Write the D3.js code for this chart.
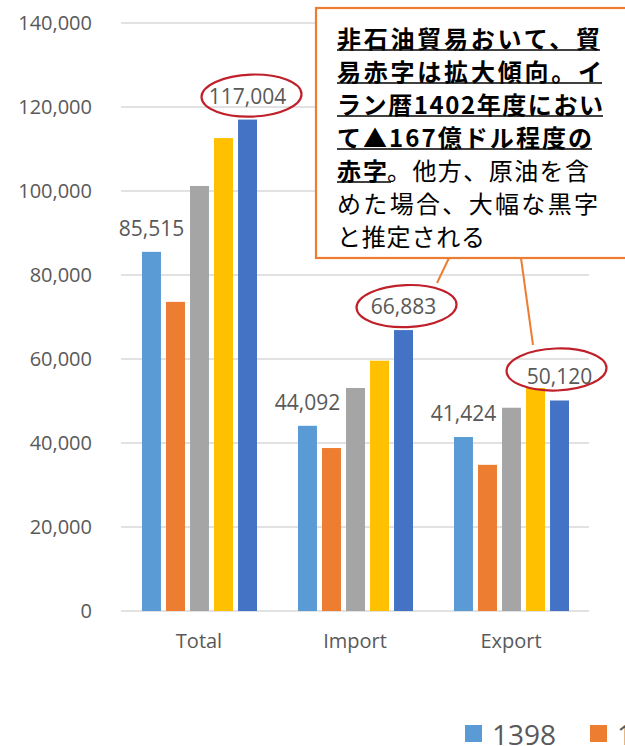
<!DOCTYPE html>
<html>
<head>
<meta charset="utf-8">
<script src="https://cdn.jsdelivr.net/npm/d3@7/dist/d3.min.js"></script>
<style>
  html, body { margin: 0; padding: 0; background: #fff; }
  svg { display: block; }
</style>
</head>
<body>
<svg id="chart" width="625" height="746"></svg>
<script>
// ---- data ----
const categories = ["Total", "Import", "Export"];
const seriesNames = ["1398", "1399", "1400", "1401", "1402"];
const values1398 = [85515, 44092, 41424];
const values1399 = [73600, 38800, 34800];
const values1400 = [101200, 53100, 48400];
const values1401 = [112600, 59600, 53100];
const values1402 = [117004, 66883, 50120];
const yTicks = [0, 20000, 40000, 60000, 80000, 100000, 120000, 140000];
const colors = ["#5b9bd5", "#ed7d31", "#a5a5a5", "#ffc000", "#4472c4"];
// labels shown: [seriesIndex, categoryIndex]
const labelled = [[0,0],[4,0],[0,1],[4,1],[0,2],[4,2]];
const circled = [[4,0,4,0],[4,1,3,0],[4,2,-3,-7]]; // series, cat, dx, dy
const noteLines = [
  [{t:"非石油貿易おいて、貿", b:true, u:true, w:263}],
  [{t:"易赤字は拡大傾向。イ", b:true, u:true, w:265}],
  [{t:"ラン暦1402年度におい", b:true, u:true, w:266}],
  [{t:"て▲167億ドル程度の", b:true, u:true, w:255}],
  [{t:"赤字", b:true, u:true, w:50, uw:54}, {t:"。他方、原油を含", b:false, u:false, w:202}],
  [{t:"めた場合、大幅な黒字", b:false, u:false, w:261}],
  [{t:"と推定される", b:false, u:false, w:148}]
];
const allValues = [values1398, values1399, values1400, values1401, values1402];

const svg = d3.select("#chart");
const textColor = "#595959";
const latin = "'Open Sans', 'Noto Sans', sans-serif";
const cjk = "'Noto Sans CJK JP', 'Noto Sans CJK SC', sans-serif";

const x0 = d3.scaleBand().domain(categories).range([121, 589]).paddingInner(0).paddingOuter(0);
const x1 = d3.scaleBand().domain(seriesNames).range([21, 136]).paddingInner(0.21).paddingOuter(0);
const y = d3.scaleLinear().domain([0, 140000]).range([611, 23]);

// gridlines
const grid = svg.append("g");
grid.selectAll("line").data(yTicks).join("line")
  .attr("x1", 121).attr("x2", 589)
  .attr("y1", d => y(d)).attr("y2", d => y(d))
  .attr("stroke", "#d9d9d9").attr("stroke-width", 1.3);

// y axis labels
const yAxis = d3.axisLeft(y).tickValues(yTicks).tickFormat(d3.format(",")).tickSize(0).tickPadding(0);
const ya = svg.append("g").attr("transform", "translate(92,0)").call(yAxis);
ya.select(".domain").remove();
ya.selectAll("text").attr("fill", textColor).style("font-family", latin).style("font-size", "20px");

// bars
const flat = [];
allValues.forEach((arr, si) => arr.forEach((v, ci) => flat.push({si, ci, v})));
svg.append("g").selectAll("rect").data(flat).join("rect")
  .attr("x", d => x0(categories[d.ci]) + x1(seriesNames[d.si]))
  .attr("width", x1.bandwidth())
  .attr("y", d => y(d.v))
  .attr("height", d => y(0) - y(d.v))
  .attr("fill", d => colors[d.si]);

// x axis category labels
const xAxis = d3.axisBottom(x0).tickSize(0).tickPadding(0);
const xa = svg.append("g").attr("transform", "translate(0,634)").call(xAxis);
xa.select(".domain").remove();
xa.selectAll("text").attr("fill", textColor).style("font-family", latin).style("font-size", "20px");

// data labels
const fmt = d3.format(",");
const lab = svg.append("g");
labelled.forEach(([si, ci]) => {
  const v = allValues[si][ci];
  lab.append("text")
    .attr("x", x0(categories[ci]) + x1(seriesNames[si]) + x1.bandwidth() / 2)
    .attr("y", y(v) - 24)
    .attr("text-anchor", "middle").attr("dominant-baseline", "central")
    .attr("fill", textColor).style("font-family", latin).style("font-size", "21px")
    .text(fmt(v));
});

// leader lines (under the box)
svg.append("line").attr("x1", 449).attr("y1", 258).attr("x2", 437).attr("y2", 283)
  .attr("stroke", "#ed7d31").attr("stroke-width", 2);
svg.append("line").attr("x1", 521).attr("y1", 258).attr("x2", 533).attr("y2", 345)
  .attr("stroke", "#ed7d31").attr("stroke-width", 2);

// red ellipses
circled.forEach(([si, ci, dx, dy]) => {
  const v = allValues[si][ci];
  const cx = x0(categories[ci]) + x1(seriesNames[si]) + x1.bandwidth() / 2 + dx;
  const cy = y(v) - 24 + dy;
  svg.append("ellipse").attr("cx", cx).attr("cy", cy).attr("rx", 50).attr("ry", 21)
    .attr("fill", "none").attr("stroke", "#c0202a").attr("stroke-width", 2.2)
    .attr("transform", `rotate(-2 ${cx} ${cy})`);
});

// annotation box
svg.append("rect").attr("x", 316).attr("y", 8).attr("width", 320).attr("height", 250)
  .attr("fill", "#fff").attr("stroke", "#ed7d31").attr("stroke-width", 2.2);

const note = svg.append("g");
noteLines.forEach((segs, li) => {
  const cy = 37 + li * 33;
  let xx = 337;
  segs.forEach(s => {
    note.append("text")
      .attr("x", xx).attr("y", cy)
      .attr("dominant-baseline", "central")
      .attr("textLength", s.w).attr("lengthAdjust", "spacing")
      .attr("fill", "#000")
      .style("font-family", cjk).style("font-size", "24px")
      .style("font-weight", s.b ? "700" : "400")
      .text(s.t);
    if (s.u) {
      note.append("line").attr("x1", xx).attr("x2", xx + (s.uw || s.w))
        .attr("y1", cy + 13).attr("y2", cy + 13)
        .attr("stroke", "#000").attr("stroke-width", 1.6);
    }
    xx += s.w;
  });
});

// legend (only the part that falls inside the frame, as in the reference)
const leg = svg.append("g");
seriesNames.forEach((n, i) => {
  const lx = 465 + i * 125;
  if (lx > 625) return;
  leg.append("rect").attr("x", lx).attr("y", 725).attr("width", 17).attr("height", 17).attr("fill", colors[i]);
  leg.append("text").attr("x", lx + 27).attr("y", 734).attr("dominant-baseline", "central")
    .attr("fill", textColor).style("font-family", latin).style("font-size", "28px").text(n);
});
</script>
</body>
</html>
